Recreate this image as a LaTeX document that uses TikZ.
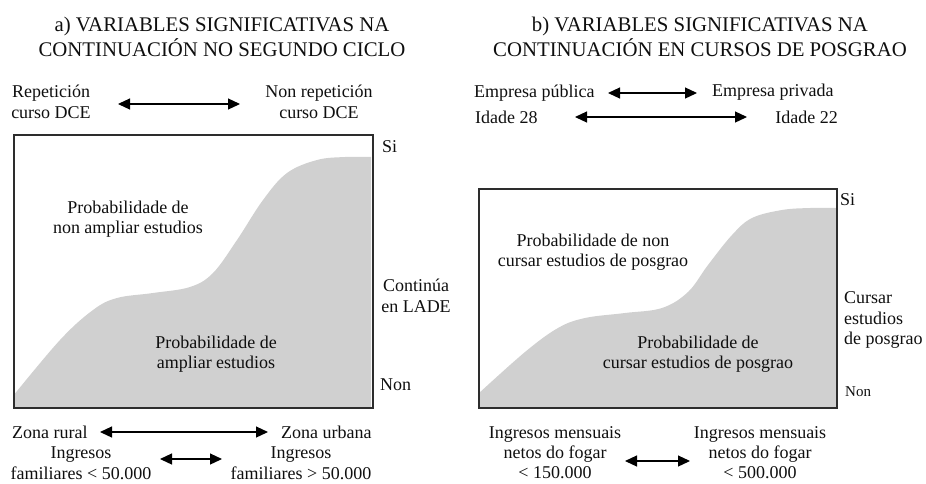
\documentclass[tikz,border=0pt]{standalone}
\usepackage{fontspec}
\setmainfont{Liberation Serif}
\usetikzlibrary{arrows.meta}
\definecolor{areagray}{RGB}{208,208,208}
\definecolor{framegray}{RGB}{45,45,45}
\definecolor{txt}{RGB}{15,15,15}
\begin{document}
\begin{tikzpicture}[x=1pt,y=-1pt,
  lbl/.style={inner sep=0pt,text=txt,align=center,font=\fontsize{18}{20.5}\selectfont},
  ttl/.style={inner sep=0pt,text=txt,align=center,font=\fontsize{20.8}{25}\selectfont},
  dbl/.style={{Triangle[length=12pt,width=11pt]}-{Triangle[length=12pt,width=11pt]},line width=1.2pt,draw=black},
  frame/.style={draw=framegray,line width=1.5pt}]
\useasboundingbox (0,0) rectangle (926,483);
% ---------- panel a ----------
\fill[areagray] plot[smooth,tension=0.6] coordinates {(13,396) (60,340) (93,310) (117,298) (153,293) (190,287) (213,273) (237,240) (263,200) (287,173) (317,160) (345,157) (371,157)} -- (371,407) -- (13,407) -- cycle;
\node[frame,minimum width=359pt,minimum height=273pt,inner sep=0pt,anchor=north west] (boxA) at (13,134) {};
\node[ttl] (titA) at (222,37) {a) VARIABLES SIGNIFICATIVAS NA\\CONTINUACIÓN NO SEGUNDO CICLO};
\node[lbl] (repA) at (51,102) {Repetición\\curso DCE};
\node[lbl] (nrepA) at (319,102) {Non repetición\\curso DCE};
\coordinate (a1s) at (118,104); \coordinate (a1e) at (240,104);
\draw[dbl] (a1s) -- (a1e);
\node[lbl,anchor=west] (siA) at (382,147) {Si};
\node[lbl] (contA) at (416,296) {Continúa\\en LADE};
\node[lbl,anchor=west] (nonA) at (380,385) {Non};
\node[lbl] (pnA) at (128,219) {Probabilidade de\\non ampliar estudios};
\node[lbl] (ppA) at (216,354) {Probabilidade de\\ampliar estudios};
\node[lbl,anchor=west] (zrA) at (12,432) {Zona rural};
\node[lbl,anchor=west] (zuA) at (281,432) {Zona urbana};
\coordinate (a2s) at (100,432); \coordinate (a2e) at (268,432);
\draw[dbl] (a2s) -- (a2e);
\node[lbl] (ifA) at (81,463) {Ingresos\\familiares < 50.000};
\node[lbl] (igA) at (301,463) {Ingresos\\familiares > 50.000};
\coordinate (a3s) at (160,459); \coordinate (a3e) at (222,459);
\draw[dbl] (a3s) -- (a3e);
% ---------- panel b ----------
\fill[areagray] plot[smooth,tension=0.6] coordinates {(478,394) (525,352) (558,328) (585,318) (625,313) (662,308) (688,292) (708,265) (732,235) (752,218) (782,210) (810,208) (836,208)} -- (836,407) -- (478,407) -- cycle;
\node[frame,minimum width=358pt,minimum height=219pt,inner sep=0pt,anchor=north west] (boxB) at (478,188) {};
\node[ttl] (titB) at (700,37) {b) VARIABLES SIGNIFICATIVAS NA\\CONTINUACIÓN EN CURSOS DE POSGRAO};
\node[lbl,anchor=west] (epuB) at (474,93) {Empresa pública};
\node[lbl,anchor=west] (eprB) at (712,92) {Empresa privada};
\coordinate (b1s) at (608,93); \coordinate (b1e) at (697,93);
\draw[dbl] (b1s) -- (b1e);
\node[lbl,anchor=west] (i28B) at (475,117) {Idade 28};
\node[lbl,anchor=east] (i22B) at (838,117) {Idade 22};
\coordinate (b2s) at (575,117); \coordinate (b2e) at (747,117);
\draw[dbl] (b2s) -- (b2e);
\node[lbl,anchor=west] (siB) at (840,200) {Si};
\node[lbl,anchor=west,align=left] (curB) at (844,320) {Cursar\\estudios\\de posgrao};
\node[lbl,anchor=west,font=\fontsize{15}{17}\selectfont] (nonB) at (845,392) {Non};
\node[lbl,font=\fontsize{18}{20}\selectfont] (im1B) at (555,453) {Ingresos mensuais\\netos do fogar\\< 150.000};
\node[lbl,font=\fontsize{18}{20}\selectfont] (im2B) at (760,453) {Ingresos mensuais\\netos do fogar\\< 500.000};
\node[lbl] (pnB) at (593,252) {Probabilidade de non\\cursar estudios de posgrao};
\node[lbl] (ppB) at (698,354) {Probabilidade de\\cursar estudios de posgrao};
\coordinate (b3s) at (625,461); \coordinate (b3e) at (690,461);
\draw[dbl] (b3s) -- (b3e);
\end{tikzpicture}
\end{document}
